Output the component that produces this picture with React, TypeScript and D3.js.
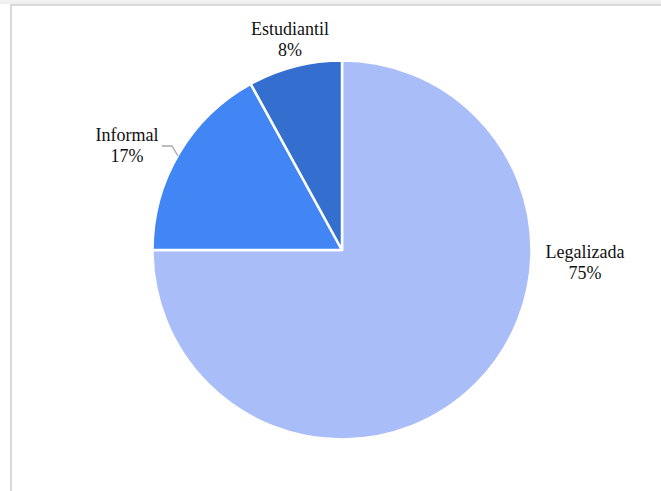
import React from "react";
import * as d3 from "d3";

const categories = ["Legalizada", "Informal", "Estudiantil"];
const values = [75, 17, 8];
const colors = ["#a9bdf8", "#4186f4", "#346fd0"];

export default function App() {
  const W = 661, H = 491;
  const cx = 342, cy = 250, r = 189.5;
  const data = categories.map((c, i) => ({ c, v: values[i] }));
  const pie = d3.pie<any>().value((d) => d.v).sort(null);
  const arcs = pie(data);
  const arc = d3.arc<any>().innerRadius(0).outerRadius(r);
  const labelPos = [
    { x: 585, y: 258 },
    { x: 127, y: 141 },
    { x: 290, y: 35 },
  ];
  return (
    <svg width={W} height={H} style={{ position: "absolute", left: 0, top: 0 }}>
      <defs>
        <linearGradient id="topg" x1="0" x2="0" y1="0" y2="1">
          <stop offset="0" stopColor="#f4f4f4" />
          <stop offset="1" stopColor="#ececec" />
        </linearGradient>
      </defs>
      <rect x={0} y={0} width={W} height={H} fill="#ffffff" />
      <rect x={0} y={0} width={W} height={4} fill="url(#topg)" />
      <line x1={10} y1={5} x2={W} y2={5} stroke="#d9d9d9" strokeWidth={2} />
      <line x1={11} y1={5} x2={11} y2={H} stroke="#d9d9d9" strokeWidth={2} />
      <g transform={`translate(${cx},${cy})`}>
        {arcs.map((a, i) => (
          <path key={i} d={arc(a) || ""} fill={colors[i]} stroke="#ffffff" strokeWidth={2.5} strokeLinejoin="round" />
        ))}
      </g>
      <polyline points="162,146 172,146 178,156" fill="none" stroke="#a6a6a6" strokeWidth={1.3} />
      {arcs.map((a, i) => (
        <text key={i} x={labelPos[i].x} y={labelPos[i].y} textAnchor="middle"
          fontFamily="Liberation Serif" fontSize={18} fill="#111">
          <tspan x={labelPos[i].x}>{categories[i]}</tspan>
          <tspan x={labelPos[i].x} dy={21}>{Math.round(((a.endAngle - a.startAngle) / (2 * Math.PI)) * 100)}%</tspan>
        </text>
      ))}
    </svg>
  );
}
